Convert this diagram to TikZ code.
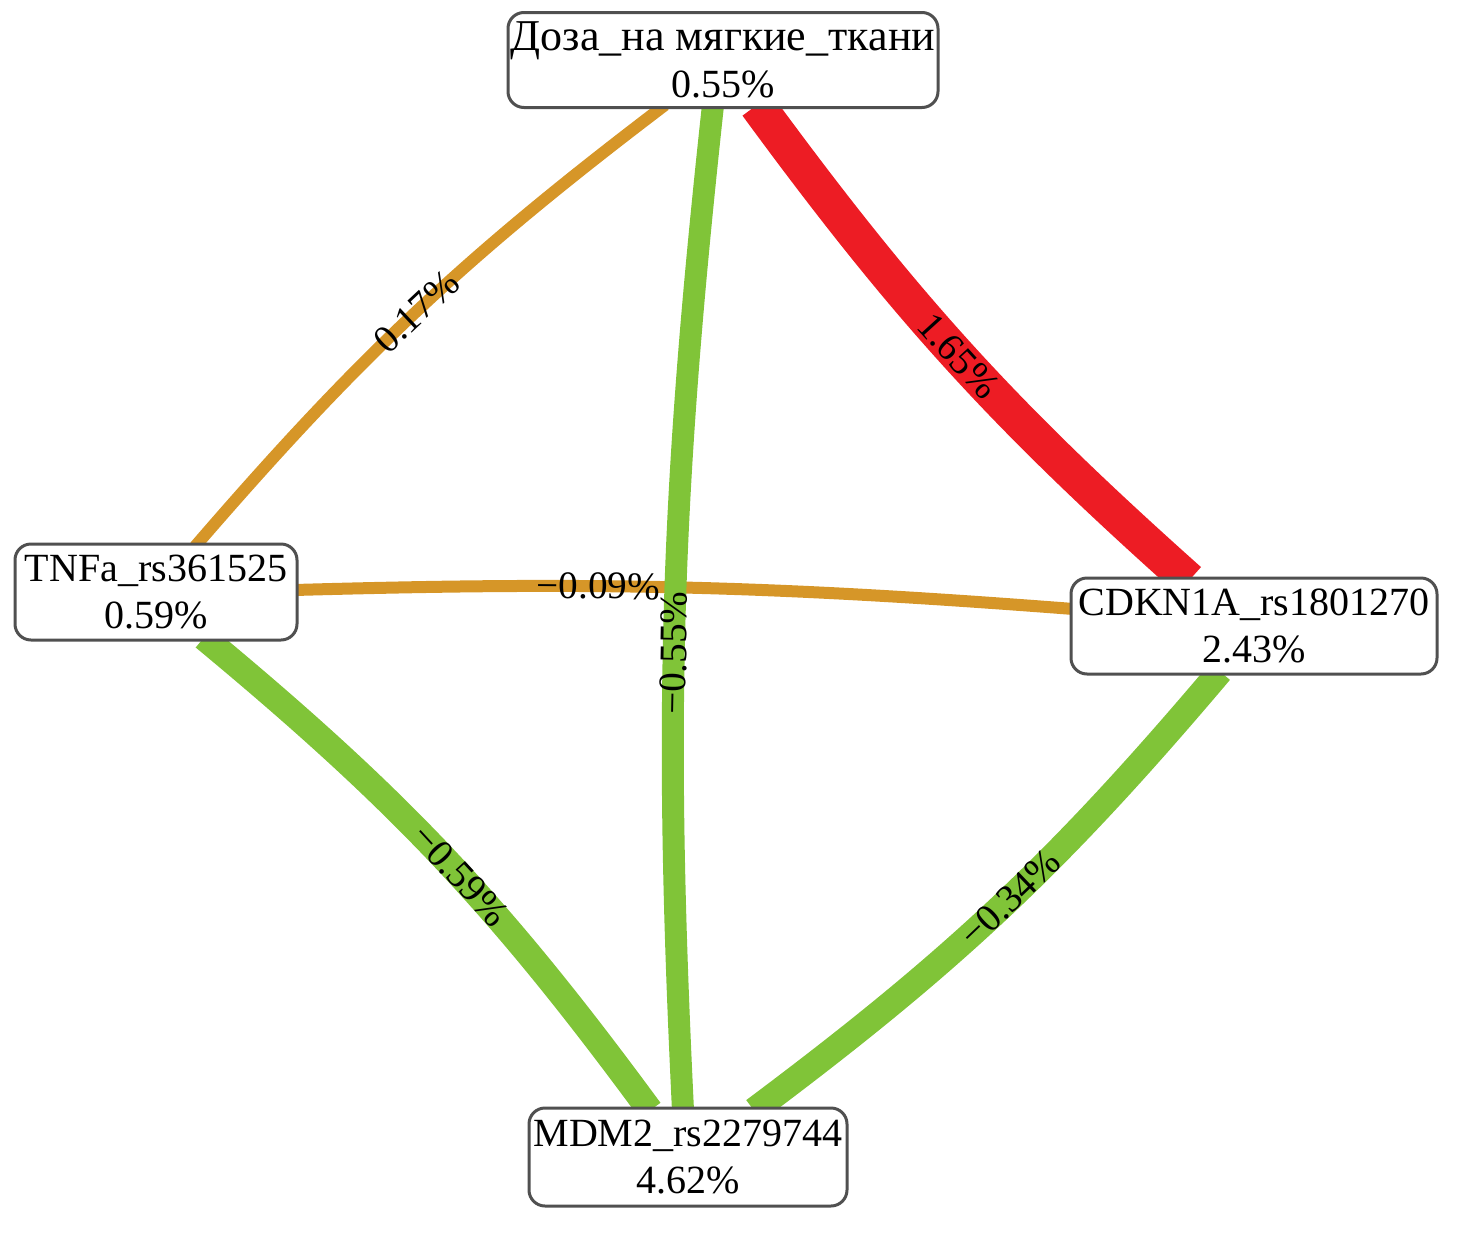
\documentclass[tikz,border=0pt]{standalone}
\usepackage{fontspec}
\setmainfont{Liberation Serif}
\usetikzlibrary{calc}
\pgfdeclarelayer{bg}
\pgfsetlayers{bg,main}
\definecolor{eorange}{RGB}{214,150,40}
\definecolor{egreen}{RGB}{128,196,56}
\definecolor{ered}{RGB}{237,28,36}
\definecolor{bord}{RGB}{80,80,80}
\begin{document}
\begin{tikzpicture}[x=0.5pt,y=-0.5pt,
  box/.style={draw=bord,line width=1.5pt,rounded corners=8pt,fill=white,inner sep=0pt,align=center,font=\fontsize{20}{23.5}\selectfont},
  lab/.style={font=\fontsize{19.5}{20}\selectfont,inner sep=0pt,sloped,text=black},
  eor/.style={eorange,line width=6pt},
  egr/.style={egreen,line width=13pt},
  ere/.style={ered,line width=18pt}]
\useasboundingbox (0,0) rectangle (1463,1253);
\node[box,minimum width=215pt,minimum height=47.5pt] (t) at (723,60) {{\fontsize{22}{23.5}\selectfont Доза\_на мягкие\_ткани}\\0.55\%};
\node[box,minimum width=141pt,minimum height=48pt] (tn) at (156,592) {TNFa\_rs361525\\0.59\%};
\node[box,minimum width=183pt,minimum height=48pt] (c) at (1254,626) {CDKN1A\_rs1801270\\2.43\%};
\node[box,minimum width=159pt,minimum height=49pt] (m) at (688,1157) {MDM2\_rs2279744\\4.62\%};
\begin{pgfonlayer}{bg}
\draw[eor] ($(t.south)+(-58,-4)$) to[bend right=6] node[lab,pos=0.5]{0.17\%} ($(tn.north)+(39,4)$);
\draw[ere] ($(t.south)+(34,-4)$) to[bend right=6] node[lab,pos=0.5]{1.65\%} ($(c.north)+(-65,4)$);
\draw[eor] ($(tn.east)+(-4,-2)$) to[bend left=3] node[lab,pos=0.38]{−0.09\%} ($(c.west)+(4,-17)$);
\draw[egr,line width=11pt] ($(m.north)+(-5,4)$) to[bend left=4.5] node[lab,pos=0.45]{−0.55\%} ($(t.south)+(-10,-4)$);
\draw[egr] ($(tn.south)+(48,-4)$) to[bend left=7] node[lab,pos=0.54]{−0.59\%} ($(m.north)+(-38,4)$);
\draw[egr] ($(c.south)+(-34,-4)$) to[bend left=6.5] node[lab,pos=0.48]{−0.34\%} ($(m.north)+(66,4)$);
\end{pgfonlayer}
\end{tikzpicture}
\end{document}
